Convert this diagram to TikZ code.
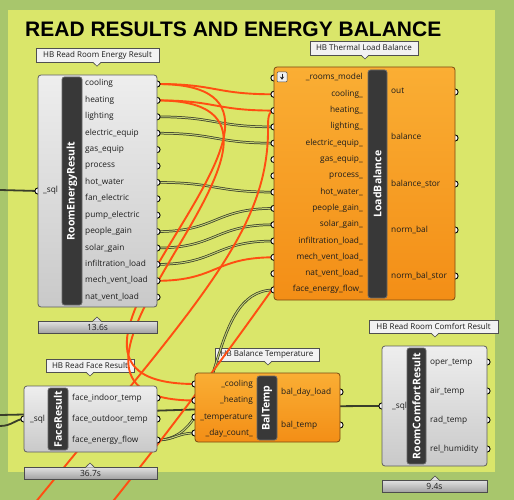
\documentclass[tikz,border=0pt]{standalone}
\usepackage{fontspec}
\setmainfont{Open Sans}
\newfontfamily\ttlfont{Liberation Sans}
\usetikzlibrary{arrows.meta}
\definecolor{outerbg}{HTML}{A8C66C}
\definecolor{panelbg}{HTML}{DAE66A}
\definecolor{wireor}{HTML}{FF4E12}
\definecolor{wiredk}{HTML}{3A3E2A}
\definecolor{wirein}{HTML}{C4D274}
\definecolor{gline}{HTML}{5E5E5E}
\definecolor{gtop}{HTML}{EEEEEE}
\definecolor{gbot}{HTML}{C9C9C9}
\definecolor{oline}{HTML}{7A4A12}
\definecolor{otop}{HTML}{FAAE34}
\definecolor{obot}{HTML}{F38E16}
\definecolor{barline}{HTML}{6A6A6A}
\definecolor{barfill}{HTML}{383838}
\definecolor{lline}{HTML}{505050}
\definecolor{lfill}{HTML}{F2F2F2}
\definecolor{tline}{HTML}{4C4C4C}
\definecolor{ttop}{HTML}{E2E2E2}
\definecolor{tbot}{HTML}{A2A2A2}
\definecolor{ptcol}{HTML}{1C1C1C}
\newcommand\dnptr[2]{\fill[lfill] (#1-4.2,#2-0.6) -- (#1,#2+4) -- (#1+4.2,#2-0.6) -- cycle;
  \draw[lline, line width=0.6] (#1-4.2,#2) -- (#1,#2+4) -- (#1+4.2,#2);}
\newcommand\upptr[2]{\fill[ttop] (#1-4.2,#2+0.6) -- (#1,#2-4) -- (#1+4.2,#2+0.6) -- cycle;
  \draw[tline, line width=0.6] (#1-4.2,#2) -- (#1,#2-4) -- (#1+4.2,#2);}
\begin{document}
\begin{tikzpicture}[x=1pt,y=-1pt,
  ptxt/.style={font=\fontsize{8.3}{9}\selectfont, text=ptcol, inner sep=0, text height=5.6, text depth=1.6},
  gbody/.style={draw=gline, line width=0.8, rounded corners=3, top color=gtop, bottom color=gbot, inner sep=0},
  obody/.style={draw=oline, line width=0.8, rounded corners=3, top color=otop, bottom color=obot, inner sep=0},
  barbox/.style={draw=barline, fill=barfill, line width=0.8, rounded corners=2.5, inner sep=0, text=white, font=\fontsize{10.5}{12}\bfseries\selectfont},
  lblbox/.style={draw=lline, fill=lfill, line width=0.6, inner sep=0, font=\fontsize{8}{9}\selectfont, text=ptcol},
  timebox/.style={draw=tline, line width=0.7, top color=ttop, bottom color=tbot, inner sep=0, font=\fontsize{8.5}{9}\selectfont, text=ptcol},
  portst/.style={draw=black, fill=white, line width=0.9},
  orw/.style={draw=wireor, line width=1.9},
  dkw/.style={draw=wiredk, line width=0.75, double=wirein, double distance=1.0},
  sqw/.style={draw=wiredk, line width=1.8},
]
\useasboundingbox (0,0) rectangle (514,500);
% background
\fill[outerbg] (0,0) rectangle (514,500);
\fill[panelbg] (8,10) rectangle (495,472);
\node[anchor=base west, inner sep=0, font=\ttlfont\bfseries\fontsize{21}{24}\selectfont] (title) at (25,37) {READ RESULTS AND ENERGY BALANCE};

% name labels
\node[lblbox, minimum width=123, minimum height=13.5] (re-lbl) at (97.5,55.5) {HB Read Room Energy Result};
\dnptr{97}{62.25}
\node[lblbox, minimum width=108, minimum height=14] (lb-lbl) at (364,48) {HB Thermal Load Balance};
\dnptr{365}{55}
\node[lblbox, minimum width=88, minimum height=13] (fr-lbl) at (90,365.5) {HB Read Face Result};
\dnptr{90}{372}
\node[lblbox, minimum width=104, minimum height=13] (bt-lbl) at (267,354.5) {HB Balance Temperature};
\dnptr{268}{361}
\node[lblbox, minimum width=129, minimum height=13] (rc-lbl) at (433.5,326.5) {HB Read Room Comfort Result};
\dnptr{435}{333}

% port coordinates
\foreach \nm [count=\i from 0] in {cooling,heating,lighting,electric,gas,process,hotwater,fan,pump,people,solar,infil,mech,natvent}
  {\coordinate (re-\nm) at (157,84+16.4*\i);}
\coordinate (re-sql) at (38,191);
\foreach \nm [count=\i from 0] in {rooms,cooling,heating,lighting,electric,gas,process,hotwater,people,solar,infil,mech,natvent,face}
  {\coordinate (lb-\nm) at (274,78+16.3*\i);}
\coordinate (lb-out) at (455,92);
\coordinate (lb-balance) at (455,138);
\coordinate (lb-balstor) at (455,184);
\coordinate (lb-normbal) at (455,230);
\coordinate (lb-normbalstor) at (455,276);
\coordinate (fr-indoor) at (157,398);
\coordinate (fr-outdoor) at (157,419);
\coordinate (fr-energy) at (157,440);
\coordinate (fr-sql) at (24,419);
\coordinate (bt-cooling) at (195,384);
\coordinate (bt-heating) at (195,400.5);
\coordinate (bt-temp) at (195,417);
\coordinate (bt-daycount) at (195,433);
\coordinate (bt-dayload) at (340,392);
\coordinate (bt-baltemp) at (340,425);
\coordinate (rc-oper) at (487,362);
\coordinate (rc-air) at (487,391);
\coordinate (rc-rad) at (487,420);
\coordinate (rc-rel) at (487,449);
\coordinate (rc-sql) at (382,406);
\coordinate (src1) at (0,190);
\coordinate (src2) at (0,426);
\coordinate (src3) at (0,415);
\coordinate (oA) at (30,509);
\coordinate (oAm) at (268,125);
\coordinate (oB) at (110,505);
\coordinate (oBend) at (300,250);

% wires
\draw[sqw] (src1) -- (re-sql);
\draw[sqw] (src2) .. controls +(12,0) and +(-8,0) .. (fr-sql);
\draw[sqw] (src3) .. controls (150,412) and (250,406) .. (rc-sql);
\foreach \a in {lighting,electric,hotwater,people,solar,infil}
  {\draw[dkw] (re-\a) .. controls +(60,0) and +(-60,0) .. (lb-\a);}
\draw[dkw] (fr-energy) .. controls +(70,0) and +(-70,0) .. (lb-face);
\draw[dkw] (fr-energy) .. controls +(18,0) and +(-18,0) .. (bt-daycount);
\draw[orw] (oA) .. controls (200,300) and (270,230) .. (oAm) .. controls (268,115) and (270,110.6) .. (lb-heating);
\draw[orw] (oB) .. controls (170,430) and (230,350) .. (oBend);
\draw[orw] (re-cooling) .. controls +(60,0) and +(-60,0) .. (lb-cooling);
\draw[orw] (re-heating) .. controls +(60,0) and +(-60,0) .. (lb-heating);
\draw[orw] (re-cooling) .. controls +(220,0) and +(-220,0) .. (bt-cooling);
\draw[orw] (re-heating) .. controls +(215,0) and +(-215,0) .. (bt-heating);
\draw[orw] (re-mech) .. controls +(60,0) and +(-60,0) .. (lb-mech);

% ports (inner half hidden by bodies)
\foreach \p in {re-cooling,re-heating,re-lighting,re-electric,re-gas,re-process,re-hotwater,re-fan,re-pump,re-people,re-solar,re-infil,re-mech,re-natvent,re-sql,
  lb-rooms,lb-cooling,lb-heating,lb-lighting,lb-electric,lb-gas,lb-process,lb-hotwater,lb-people,lb-solar,lb-infil,lb-mech,lb-natvent,lb-face,
  lb-out,lb-balance,lb-balstor,lb-normbal,lb-normbalstor,
  fr-indoor,fr-outdoor,fr-energy,fr-sql,bt-cooling,bt-heating,bt-temp,bt-daycount,bt-dayload,bt-baltemp,
  rc-oper,rc-air,rc-rad,rc-rel,rc-sql}
  {\draw[portst] (\p) circle[radius=3.1];}

% component bodies
\node[gbody, minimum width=119, minimum height=232] (re) at (97.5,191) {};
\node[barbox, minimum width=20, minimum height=228] (re-bar) at (72,191) {\rotatebox{90}{RoomEnergyResult}};
\node[obody, minimum width=181, minimum height=233] (lb) at (364.5,183.5) {};
\node[barbox, minimum width=19, minimum height=228] (lb-bar) at (377.5,184) {\rotatebox{90}{LoadBalance}};
\node[gbody, minimum width=133, minimum height=66] (fr) at (90.5,419) {};
\node[barbox, minimum width=20, minimum height=62] (fr-bar) at (58,419) {\rotatebox{90}{FaceResult}};
\node[obody, minimum width=145, minimum height=69] (bt) at (267.5,407.5) {};
\node[barbox, minimum width=20, minimum height=64] (bt-bar) at (267,408) {\rotatebox{90}{BalTemp}};
\node[gbody, minimum width=105, minimum height=120] (rc) at (434.5,406) {};
\node[barbox, minimum width=19, minimum height=116] (rc-bar) at (416.5,406) {\rotatebox{90}{RoomComfortResult}};

% icon on LoadBalance
\node[draw=gray!60!black, fill=gray!12, minimum size=10, inner sep=0, line width=0.5, rounded corners=1] (lb-icon) at (282,77) {};
\draw[-{Stealth[length=3pt,width=4pt]}, line width=0.9, gray!30!black] (lb-icon.north) ++(0,1.8) -- ++(0,6.2);

% port texts
\foreach \lab [count=\i from 0] in {cooling,heating,lighting,electric\_equip,gas\_equip,process,hot\_water,fan\_electric,pump\_electric,people\_gain,solar\_gain,infiltration\_load,mech\_vent\_load,nat\_vent\_load}
  {\node[ptxt, anchor=west] at (85,84+16.4*\i) {\lab};}
\node[ptxt, anchor=west] (re-sqltxt) at (43,191) {\_sql};
\foreach \lab [count=\i from 0] in {\_rooms\_model,cooling\_,heating\_,lighting\_,electric\_equip\_,gas\_equip\_,process\_,hot\_water\_,people\_gain\_,solar\_gain\_,infiltration\_load\_,mech\_vent\_load\_,nat\_vent\_load\_,face\_energy\_flow\_}
  {\node[ptxt, anchor=east] at (363,78+16.3*\i) {\lab};}
\node[ptxt, anchor=west] (lb-t1) at (391,92) {out};
\node[ptxt, anchor=west] (lb-t2) at (391,138) {balance};
\node[ptxt, anchor=west] (lb-t3) at (391,184) {balance\_stor};
\node[ptxt, anchor=west] (lb-t4) at (391,230) {norm\_bal};
\node[ptxt, anchor=west] (lb-t5) at (391,276) {norm\_bal\_stor};
\node[ptxt, anchor=west] (fr-t1) at (72,398) {face\_indoor\_temp};
\node[ptxt, anchor=west] (fr-t2) at (72,419) {face\_outdoor\_temp};
\node[ptxt, anchor=west] (fr-t3) at (72,440) {face\_energy\_flow};
\node[ptxt, anchor=west] (fr-t4) at (30,419) {\_sql};
\node[ptxt, anchor=east] (bt-t1) at (253,384) {\_cooling};
\node[ptxt, anchor=east] (bt-t2) at (253,400.5) {\_heating};
\node[ptxt, anchor=east] (bt-t3) at (253,417) {\_temperature};
\node[ptxt, anchor=east] (bt-t4) at (253,433) {\_day\_count\_};
\node[ptxt, anchor=west] (bt-t5) at (281,392) {bal\_day\_load};
\node[ptxt, anchor=west] (bt-t6) at (281,425) {bal\_temp};
\node[ptxt, anchor=west] (rc-t1) at (430,362) {oper\_temp};
\node[ptxt, anchor=west] (rc-t2) at (430,391) {air\_temp};
\node[ptxt, anchor=west] (rc-t3) at (430,420) {rad\_temp};
\node[ptxt, anchor=west] (rc-t4) at (430,449) {rel\_humidity};
\node[ptxt, anchor=west] (rc-t5) at (392,406) {\_sql};

% timing bars
\node[timebox, minimum width=119, minimum height=12] (re-time) at (97.5,327) {13.6s};
\upptr{97}{321}
\node[timebox, minimum width=133, minimum height=12] (fr-time) at (90.5,473) {36.7s};
\upptr{90}{467}
\node[timebox, minimum width=105, minimum height=12] (rc-time) at (434.5,486) {9.4s};
\upptr{435}{480}
\end{tikzpicture}
\end{document}
